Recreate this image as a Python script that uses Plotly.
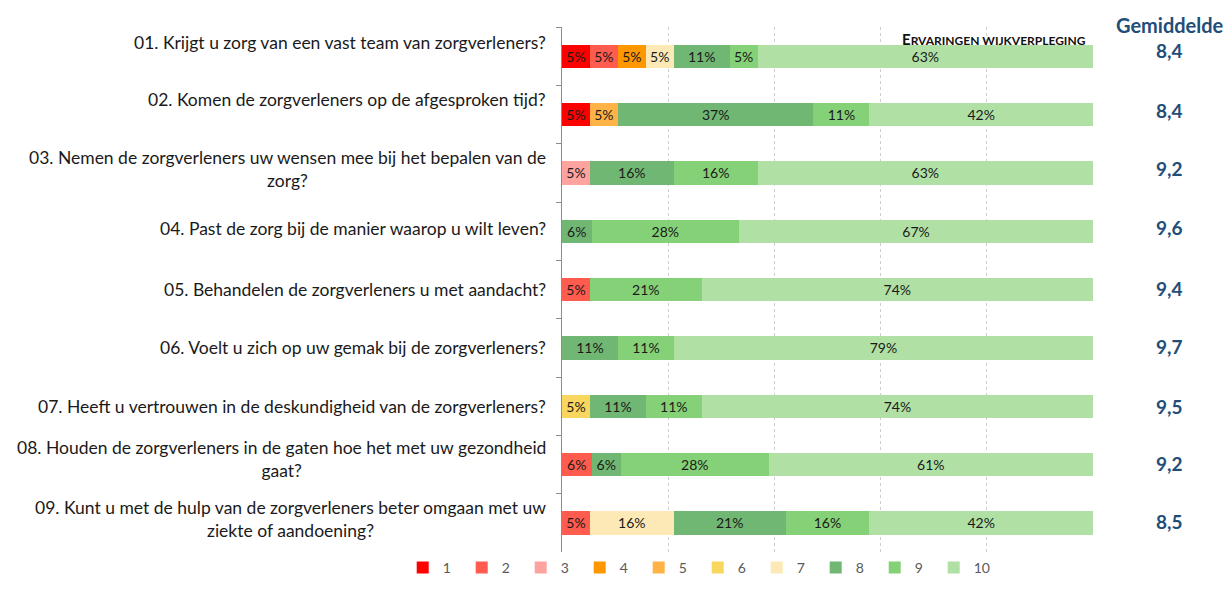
import plotly.graph_objects as go

questions = [
    "01. Krijgt u zorg van een vast team van zorgverleners?",
    "02. Komen de zorgverleners op de afgesproken tijd?",
    "03. Nemen de zorgverleners uw wensen mee bij het bepalen van de<br>zorg?",
    "04. Past de zorg bij de manier waarop u wilt leven?",
    "05. Behandelen de zorgverleners u met aandacht?",
    "06. Voelt u zich op uw gemak bij de zorgverleners?",
    "07. Heeft u vertrouwen in de deskundigheid van de zorgverleners?",
    "08. Houden de zorgverleners in de gaten hoe het met uw gezondheid<br>gaat?",
    "09. Kunt u met de hulp van de zorgverleners beter omgaan met uw<br>ziekte of aandoening?",
]
cats = ["q%d" % (i + 1) for i in range(len(questions))]

scores = ["1", "2", "3", "4", "5", "6", "7", "8", "9", "10"]
s1 = [5.26, 5.26, None, None, None, None, None, None, None]
s2 = [5.26, None, None, None, 5.26, None, None, 5.56, 5.26]
s3 = [None, None, 5.26, None, None, None, None, None, None]
s4 = [5.26, None, None, None, None, None, None, None, None]
s5 = [None, 5.26, None, None, None, None, None, None, None]
s6 = [None, None, None, None, None, None, 5.26, None, None]
s7 = [5.26, None, None, None, None, None, None, None, 15.79]
s8 = [10.53, 36.84, 15.79, 5.56, None, 10.53, 10.53, 5.56, 21.05]
s9 = [5.26, 10.53, 15.79, 27.78, 21.05, 10.53, 10.53, 27.78, 15.79]
s10 = [63.16, 42.11, 63.16, 66.67, 73.68, 78.95, 73.68, 61.11, 42.11]
series = [s1, s2, s3, s4, s5, s6, s7, s8, s9, s10]

gemiddelde = ["8,4", "8,4", "9,2", "9,6", "9,4", "9,7", "9,5", "9,2", "8,5"]

colors = ["#FF0000", "#FF5B4F", "#FFA3A0", "#FF9800", "#FFB347",
          "#F9D65E", "#FDE9B5", "#70B773", "#85D177", "#B0E0A4"]

FONT = "Lato"
fig = go.Figure()
for name, vals, col in zip(scores, series, colors):
    fig.add_trace(go.Bar(
        y=cats, x=vals, name=name, orientation="h",
        marker=dict(color=col, line=dict(width=0)),
        width=0.4,
        texttemplate="%{x:.0f}%", textposition="inside",
        insidetextanchor="middle",
        textfont=dict(family=FONT, size=14, color="#1a1a1a"),
        constraintext="none",
        hoverinfo="skip",
    ))

label_shift = [14, 15, 4, 3, 0, 0, 0, 6, 4]
val_shift = [6, 4, 4, 4, 1, 1, 0, 1, 1]
annotations = []
for c, q, ys in zip(cats, questions, label_shift):
    annotations.append(dict(
        xref="paper", yref="y", x=-0.026, y=c, text=q, showarrow=False,
        xanchor="right", yanchor="middle", align="center", yshift=ys,
        font=dict(family=FONT, size=17.5, color="#1a1a1a")))
for c, g, ys in zip(cats, gemiddelde, val_shift):
    annotations.append(dict(
        xref="paper", yref="y", x=1.145, y=c, text="<b>%s</b>" % g,
        showarrow=False, xanchor="center", yanchor="middle", yshift=ys,
        font=dict(family=FONT, size=19, color="#1F4E79")))
annotations.append(dict(
    xref="paper", yref="paper", x=1.145, y=1.0, yshift=2, text="<b>Gemiddelde</b>",
    showarrow=False, xanchor="center", yanchor="middle",
    font=dict(family=FONT, size=20, color="#1F4E79")))
annotations.append(dict(
    xref="paper", yref="paper", x=0.99, y=1.0, yshift=-1,
    text="<b>E<span style='font-size:12px'>RVARINGEN WIJKVERPLEGING</span></b>",
    showarrow=False, xanchor="right", yanchor="top",
    font=dict(family=FONT, size=15, color="#111111")))

fig.update_layout(
    width=1226, height=600,
    margin=dict(l=562, r=133, t=27, b=48),
    barmode="stack",
    plot_bgcolor="white", paper_bgcolor="white",
    font=dict(family=FONT),
    annotations=annotations,
    showlegend=True,
    legend=dict(orientation="h", x=-0.3, xanchor="left",
                y=0, yanchor="top",
                font=dict(family=FONT, size=14, color="#595959"),
                itemwidth=30, entrywidth=14, entrywidthmode="pixels",
                traceorder="normal"),
    xaxis=dict(range=[0, 100], showticklabels=False, showgrid=True,
               gridcolor="#cfcfcf", griddash="dot", gridwidth=1,
               dtick=20, zeroline=False, showline=False, fixedrange=True),
    yaxis=dict(categoryorder="array", categoryarray=cats, autorange="reversed",
               showticklabels=False, showgrid=False, showline=True,
               linecolor="#8c8c8c", linewidth=1, ticks="outside",
               tickson="boundaries", ticklen=5, tickcolor="#8c8c8c",
               zeroline=False, fixedrange=True),
)

fig.write_html("out.html")
